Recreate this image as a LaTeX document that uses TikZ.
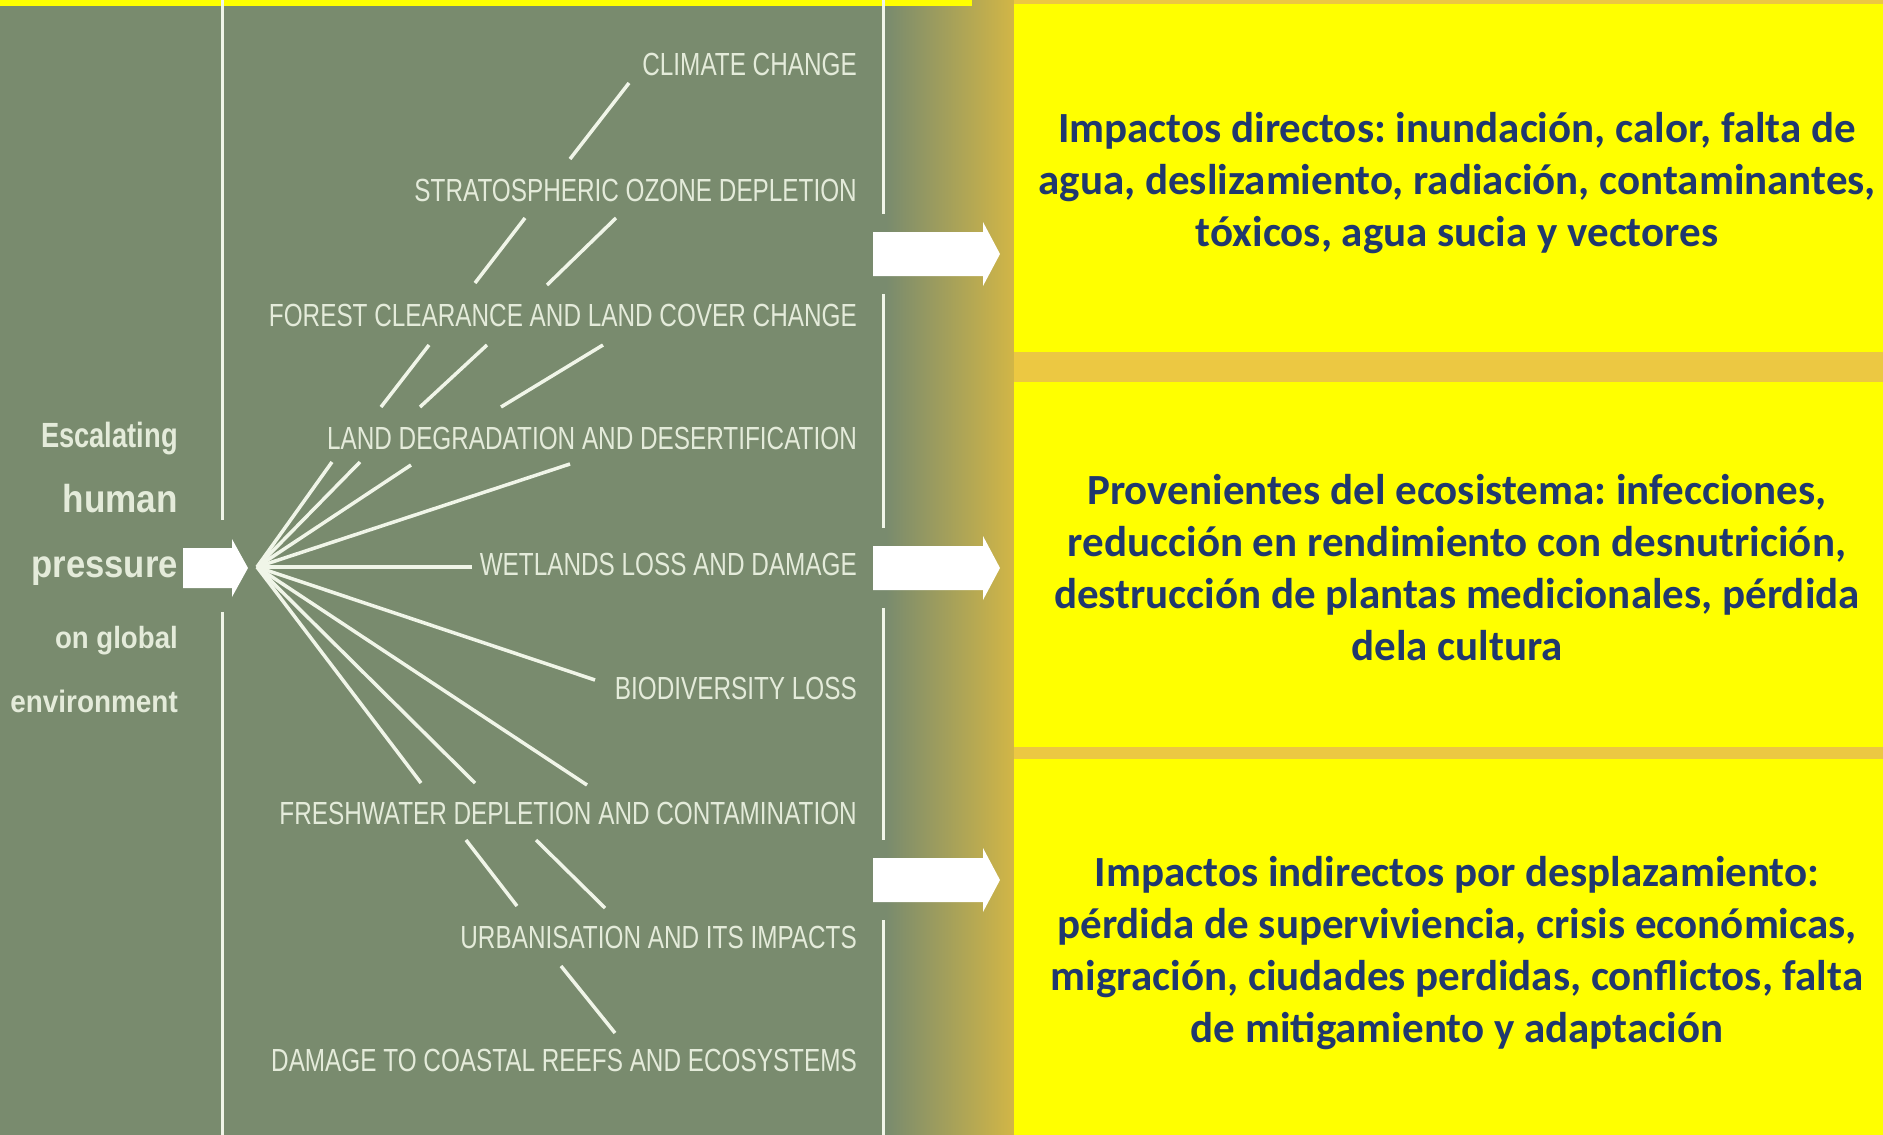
\documentclass[tikz,border=0pt]{standalone}
\usepackage{fontspec}
\setmainfont{Liberation Sans}
\newfontfamily\boxfont{Carlito}
\newfontfamily\condfont[FakeStretch=0.76]{Liberation Sans}
\newfontfamily\condbold[FakeStretch=0.78]{Liberation Sans}
\newfontfamily\widebold[FakeStretch=0.9]{Liberation Sans}
\definecolor{sage}{RGB}{121,139,110}
\definecolor{goldr}{RGB}{210,182,70}
\definecolor{goldband}{RGB}{236,200,66}
\definecolor{navy}{RGB}{32,56,110}
\definecolor{pale}{RGB}{228,235,218}
\definecolor{linew}{RGB}{240,245,232}
\definecolor{yel}{RGB}{255,255,0}
\tikzset{
  rarrow/.pic={\fill[white] (0,-22) -- (110,-22) -- (110,-32) -- (127,0) -- (110,32) -- (110,22) -- (0,22) -- cycle;},
  larrow/.pic={\fill[white] (0,-20) -- (49,-20) -- (49,-29) -- (65,0) -- (49,29) -- (49,20) -- (0,20) -- cycle;}
}
\frenchspacing
\begin{document}
\begin{tikzpicture}[x=1pt,y=-1pt,
  lbl/.style={anchor=east, inner sep=0pt, text=pale, font=\condfont\fontsize{32}{34}\selectfont},
  lefttxt/.style={anchor=base east, inner sep=0pt, text=pale},
  fanline/.style={draw=linew, line width=3.5pt},
  framel/.style={draw=linew, line width=3pt},
  boxtext/.style={align=center, text=navy, inner sep=0pt, font=\boxfont\bfseries\fontsize{43}{52}\selectfont},
]
\useasboundingbox (0,0) rectangle (1883,1135);
% backgrounds
\fill[sage] (0,0) rectangle (890,1135);
\shade[left color=sage, right color=goldr] (886,0) rectangle (1014,1135);
\fill[goldband] (1014,0) rectangle (1883,1135);
\fill[yel] (0,0) rectangle (972,6);
\fill[yel] (1014,4) rectangle (1883,352);
\fill[yel] (1014,382) rectangle (1883,747);
\fill[yel] (1014,759) rectangle (1883,1135);
% frame lines
\draw[framel] (222,0) -- (222,520);
\draw[framel] (222,612) -- (222,1135);
\draw[framel] (883,0) -- (883,214);
\draw[framel] (883,294) -- (883,528);
\draw[framel] (883,608) -- (883,840);
\draw[framel] (883,920) -- (883,1135);
% arrows
\pic at (873,254) {rarrow};
\pic at (873,568) {rarrow};
\pic at (873,880) {rarrow};
\pic at (183,568) {larrow};
% left text
\node[lefttxt, font=\condbold\bfseries\fontsize{35}{38}\selectfont] (t1) at (178,447) {Escalating};
\node[lefttxt, font=\widebold\bfseries\fontsize{39}{42}\selectfont] (t2) at (178,512) {human};
\node[lefttxt, font=\widebold\bfseries\fontsize{38.5}{42}\selectfont] (t3) at (178,577) {pressure};
\node[lefttxt, font=\widebold\bfseries\fontsize{30.7}{33}\selectfont] (t4) at (178,648) {on global};
\node[lefttxt, font=\widebold\bfseries\fontsize{31}{34}\selectfont] (t5) at (178,712) {environment};
% labels
\node[lbl] (cc) at (857,64) {CLIMATE CHANGE};
\node[lbl] (so) at (857,190) {STRATOSPHERIC OZONE DEPLETION};
\node[lbl] (fc) at (857,315) {FOREST CLEARANCE AND LAND COVER CHANGE};
\node[lbl] (ld) at (857,438) {LAND DEGRADATION AND DESERTIFICATION};
\node[lbl] (wl) at (857,564) {WETLANDS LOSS AND DAMAGE};
\node[lbl] (bl) at (857,688) {BIODIVERSITY LOSS};
\node[lbl] (fw) at (857,813) {FRESHWATER DEPLETION AND CONTAMINATION};
\node[lbl] (ur) at (857,937) {URBANISATION AND ITS IMPACTS};
\node[lbl] (dc) at (857,1060) {DAMAGE TO COASTAL REEFS AND ECOSYSTEMS};
% coordinates
\coordinate (V) at (257,567);
\coordinate (a1) at (629,83);  \coordinate (a2) at (570,159);
\coordinate (b1) at (525,218); \coordinate (b2) at (475,283);
\coordinate (b3) at (616,218); \coordinate (b4) at (547,285);
\coordinate (c1) at (429,345); \coordinate (c2) at (381,407);
\coordinate (c3) at (487,345); \coordinate (c4) at (420,407);
\coordinate (c5) at (603,345); \coordinate (c6) at (501,407);
\coordinate (d1) at (332,462); \coordinate (d2) at (360,462);
\coordinate (d3) at (411,465); \coordinate (d4) at (570,464);
\coordinate (e1) at (472,567);
\coordinate (e2) at (595,680);
\coordinate (f1) at (421,783); \coordinate (f2) at (475,783); \coordinate (f3) at (587,785);
\coordinate (g1) at (466,840); \coordinate (g2) at (517,906);
\coordinate (g3) at (536,840); \coordinate (g4) at (605,908);
\coordinate (h1) at (561,966); \coordinate (h2) at (615,1033);
% connectors
\draw[fanline] (a1) -- (a2);
\draw[fanline] (b1) -- (b2);
\draw[fanline] (b3) -- (b4);
\draw[fanline] (c1) -- (c2);
\draw[fanline] (c3) -- (c4);
\draw[fanline] (c5) -- (c6);
\foreach \p in {d1,d2,d3,d4,e1,e2,f1,f2,f3} \draw[fanline] (V) -- (\p);
\draw[fanline] (g1) -- (g2);
\draw[fanline] (g3) -- (g4);
\draw[fanline] (h1) -- (h2);
% box texts
\node[boxtext] (box1) at (1457,183) {Impactos directos: inundación, calor, falta de\\agua, deslizamiento, radiación, contaminantes,\\tóxicos, agua sucia y vectores};
\node[boxtext] (box2) at (1457,568) {Provenientes del ecosistema: infecciones,\\reducción en rendimiento con desnutrición,\\destrucción de plantas medicionales, pérdida\\dela cultura};
\node[boxtext] (box3) at (1457,953) {Impactos indirectos por desplazamiento:\\pérdida de superviviencia, crisis económicas,\\migración, ciudades perdidas, conflictos, falta\\de mitigamiento y adaptación};
\end{tikzpicture}
\end{document}
